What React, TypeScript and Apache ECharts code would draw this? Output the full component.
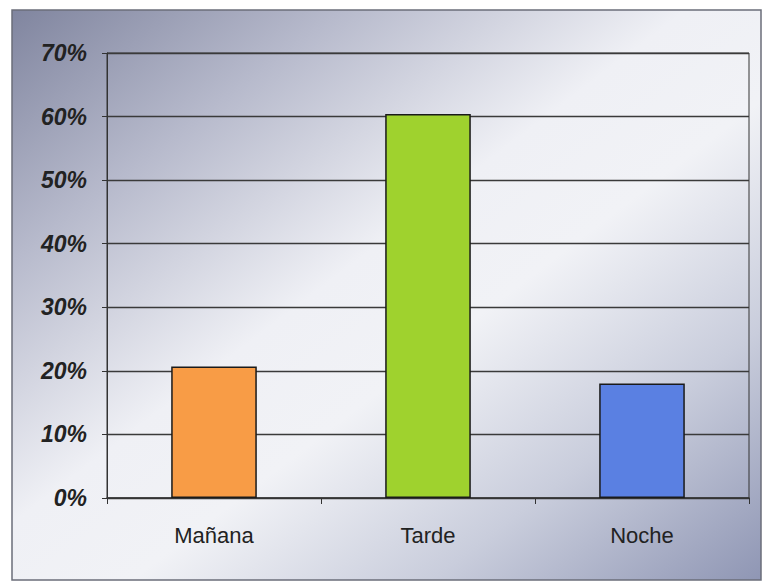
import React, { useEffect, useRef } from "react";
import * as echarts from "echarts";

const categories = ["Mañana", "Tarde", "Noche"];
const values = [20.7, 60.4, 18.0];
const barColors = ["#f89c46", "#9fd22e", "#5a80e2"];
const yTicks = [0, 10, 20, 30, 40, 50, 60, 70];

export default function App() {
  const ref = useRef<HTMLDivElement>(null);
  useEffect(() => {
    if (!ref.current) return;
    const chart = echarts.init(ref.current, null, { renderer: "svg" });
    chart.setOption({
      animation: false,
      backgroundColor: "#ffffff",
      graphic: [
        {
          type: "rect",
          z: -10,
          shape: { x: 12, y: 10, width: 749, height: 570 },
          style: {
            fill: new echarts.graphic.LinearGradient(0, 0, 1, 1, [
              { offset: 0, color: "#80859f" },
              { offset: 0.22, color: "#b7bacc" },
              { offset: 0.45, color: "#eff0f5" },
              { offset: 0.58, color: "#f1f2f6" },
              { offset: 0.78, color: "#c9cddc" },
              { offset: 1, color: "#8f96b4" },
            ]),
            stroke: "#6b6e7a",
            lineWidth: 1.5,
          },
        },
      ],
      grid: {
        left: 107,
        right: 14,
        top: 53,
        bottom: 86,
        show: true,
        borderColor: "#333",
        borderWidth: 1,
        backgroundColor: "transparent",
      },
      xAxis: {
        type: "category",
        data: categories,
        axisLine: { show: true, lineStyle: { color: "#333", width: 1.5 } },
        axisTick: { show: true, length: 6, lineStyle: { color: "#333" } },
        axisLabel: {
          margin: 26,
          fontFamily: "Liberation Sans, Arial, sans-serif",
          fontSize: 22,
          color: "#222",
        },
      },
      yAxis: {
        type: "value",
        min: 0,
        max: 70,
        interval: 10,
        axisLine: { show: true, lineStyle: { color: "#333", width: 1 } },
        axisTick: { show: true, length: 5, lineStyle: { color: "#333" } },
        splitLine: { show: true, lineStyle: { color: "#3a3a3a", width: 1.3 } },
        axisLabel: {
          margin: 20,
          fontFamily: "Liberation Sans, Arial, sans-serif",
          fontSize: 23,
          fontWeight: "bold",
          fontStyle: "italic",
          color: "#222",
          formatter: (v: number) => (yTicks.includes(v) ? `${v}%` : ""),
        },
      },
      series: [
        {
          type: "bar",
          barWidth: "40%",
          data: values.map((v, i) => ({
            value: v,
            itemStyle: { color: barColors[i], borderColor: "#1a1a1a", borderWidth: 1.5 },
          })),
        },
      ],
    });
    return () => chart.dispose();
  }, []);
  return (
    <div
      ref={ref}
      style={{ position: "absolute", left: 0, top: 0, width: 763, height: 584 }}
    />
  );
}
